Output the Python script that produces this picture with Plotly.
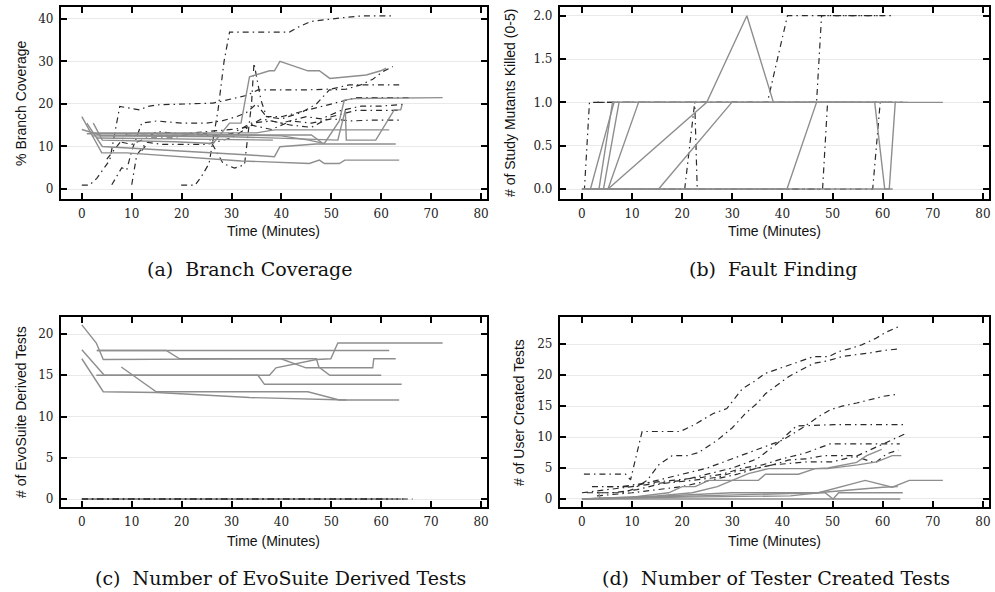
import plotly.graph_objects as go

# ---------------- data ----------------
x_ticks = [0, 10, 20, 30, 40, 50, 60, 70, 80]

# (a) Branch coverage: solid (gray) series
a_s1_t = [0, 4, 9, 32, 45.6, 47.6, 48.6, 51.6, 52.7, 63.6]
a_s1_v = [17, 8.5, 8.5, 6.6, 6.0, 6.8, 6.0, 6.0, 6.8, 6.8]
a_s2_t = [1, 4.1, 33.6, 38.6, 39.7, 46.9, 62.9]
a_s2_v = [15.5, 10, 8, 7.6, 9.95, 10.6, 10.6]
a_s3_t = [2.3, 4.1, 18.6, 26.3, 29.6, 31.9, 33.6, 37.6, 38.6, 39.7, 45.3, 47.6, 49.7, 57, 59.9, 61]
a_s3_v = [15.5, 11.5, 11.1, 10.7, 15.5, 15.5, 26.4, 27.8, 27.8, 30, 27.8, 27.8, 26, 26.8, 27.8, 28.4]
a_s4_t = [1, 20, 40, 45.5, 48.6, 50.5, 51.6, 52.6, 55, 72.3]
a_s4_v = [13, 13, 12.5, 11.5, 10.7, 14, 16, 20.9, 21.3, 21.5]
a_s5_t = [2, 30, 51.3, 52.8, 53, 58.9, 62.6, 63.9, 64.2]
a_s5_v = [12.5, 12.3, 11.5, 18.6, 11.5, 11.5, 18.6, 18.6, 19.9]
a_s6_t = [2, 35, 38.6, 61.6]
a_s6_v = [13.2, 13.2, 13.9, 13.9]
a_s7_t = [3, 38.3]
a_s7_v = [12, 11.5]
a_s8_t = [0, 4, 30, 46, 48]
a_s8_v = [14, 12.6, 12.7, 12.7, 11.0]

# (a) Branch coverage: dash-dot (dark) series
a_d1_t = [19.9, 22.7, 24, 25.5, 27.3, 28.5, 29.6, 33, 41.6, 43.6, 45.9, 51.6, 56, 62.3]
a_d1_v = [0.9, 0.9, 3, 6, 18.6, 30, 36.9, 36.9, 36.9, 38.2, 39.4, 40.2, 40.7, 40.7]
a_d2_t = [0, 1.5, 3, 5.6, 7.6, 11.6, 13.1, 15.3, 26.3, 29.6, 33, 35.3, 45, 50, 53.6, 63.6]
a_d2_v = [0.9, 0.9, 2.5, 6.8, 19.4, 18.6, 19.4, 19.8, 20.2, 21, 22, 23.3, 23.3, 23.5, 24.5, 24.5]
a_d3_t = [6, 8, 9, 10, 12, 15, 20, 25, 28, 31, 33, 35, 37, 40, 44, 47, 49.6, 53, 55.9, 58.3, 60.3, 62.3]
a_d3_v = [1, 5, 4.5, 9, 15.5, 16, 15.5, 15.5, 16, 17, 18, 20, 17, 16.5, 18, 20, 23.3, 23.5, 24.5, 25.8, 27.6, 28.8]
a_d4_t = [5, 7, 9, 12, 15, 20, 25, 28.3, 30.6, 32.6, 34, 34.5, 35.9, 37, 40, 45, 50, 55, 60, 66.3]
a_d4_v = [7, 10, 13, 13, 13, 13, 13, 6, 4.9, 5.7, 20, 29.6, 20.9, 17, 17, 18.5, 20, 21.5, 21.5, 21.5]
a_d5_t = [8, 10, 13, 15, 20, 25, 30, 33, 36, 40, 45, 48, 52, 56, 60, 64.5]
a_d5_v = [11, 10.5, 12, 13.5, 13, 13.5, 14, 14.5, 16.5, 15.5, 17, 16.5, 18.5, 19.5, 19.5, 19.9]
a_d6_t = [10, 11, 13, 16, 20, 25, 30, 34, 38, 42, 46, 50, 54, 58, 64]
a_d6_v = [1, 8, 11, 10.5, 10.5, 10.5, 12, 15, 14, 16, 15.5, 16.5, 16, 16.2, 16.2]
a_d7_t = [12, 14, 18, 22, 26, 30, 34, 38, 42, 46, 50, 55, 60, 64]
a_d7_v = [9, 12, 12, 13, 12.5, 13, 15.5, 16, 15, 14.5, 17, 18.5, 18.5, 18.5]

# (b) Fault finding: solid series
b_s1_t = [1.7, 6.4, 20, 40, 60]
b_s1_v = [0, 1, 1, 1, 1]
b_s2_t = [3.4, 6.1, 30, 55]
b_s2_v = [0, 1, 1, 1]
b_s3_t = [4.3, 7.4, 30, 50]
b_s3_v = [0, 1, 1, 1]
b_s4_t = [5.2, 11.3, 30, 60]
b_s4_v = [0, 1, 1, 1]
b_s5_t = [5.2, 24.9, 32.9, 38.2, 50, 64]
b_s5_v = [0, 1, 2, 1, 1, 1]
b_s6_t = [0, 15.3, 29.9, 40, 72]
b_s6_v = [0, 0, 1, 1, 1]
b_s7_t = [0, 20, 40.9, 46.8, 55, 58.4, 60.4, 61.3, 62.5, 65]
b_s7_v = [0, 0, 0, 1, 1, 1, 0, 0, 1, 1]
b_s8_t = [0, 30, 62]
b_s8_v = [0, 0, 0]

# (b) Fault finding: dash-dot series
b_d1_t = [0, 0.5, 1.5, 20, 40, 62]
b_d1_v = [0, 0, 1, 1, 1, 1]
b_d2_t = [5, 20.5, 22.5, 30, 37, 41, 50, 62]
b_d2_v = [0, 0, 1, 1, 1, 2, 2, 2]
b_d3_t = [3, 22.5, 23, 40, 48, 49, 62]
b_d3_v = [1, 1, 0, 0, 0, 1, 1]
b_d4_t = [5, 40, 46.8, 47.8, 55, 60]
b_d4_v = [1, 1, 1, 2, 2, 2]
b_d5_t = [2, 40, 58, 59.5, 64]
b_d5_v = [0, 0, 0, 1, 1]

# (c) EvoSuite derived tests: solid series
c_s1_t = [0, 4.3, 15, 33.6, 53, 63.6]
c_s1_v = [17, 13, 12.9, 12.3, 12, 12]
c_s2_t = [7.9, 14.9, 45.3, 51.6, 53]
c_s2_v = [16, 13, 13, 12, 12]
c_s3_t = [0, 2.9, 4.3, 39.9, 44.9, 58.3, 58.5, 62.9]
c_s3_v = [21.1, 18.9, 16.9, 17, 15.9, 15.9, 17, 17]
c_s4_t = [0, 4.5, 37.6, 38.9, 47, 49.9, 51.3, 72.3]
c_s4_v = [18.1, 15, 15, 15.9, 16.9, 17, 18.9, 18.9]
c_s5_t = [3, 61.6]
c_s5_v = [18, 18]
c_s6_t = [3, 16.9, 19.6, 47, 47.5, 49.7, 60]
c_s6_v = [18, 18, 17, 17, 16, 15, 15]
c_s7_t = [2.9, 35.3, 36.6, 64.1]
c_s7_v = [15, 15, 13.9, 13.9]

# (c) EvoSuite derived tests: dash-dot series (all at zero)
c_d1_t = [0, 60]
c_d1_v = [0, 0]
c_d2_t = [0, 62]
c_d2_v = [0, 0]
c_d3_t = [1, 64]
c_d3_v = [0, 0]
c_d4_t = [0, 65]
c_d4_v = [0, 0]
c_d5_t = [2, 66.3]
c_d5_v = [0, 0]

# (d) Tester created tests: solid series
d_s1_t = [0, 10, 17.3, 20, 22.6, 25.3, 29.9, 35.2, 36.6, 43.2, 46.5, 49.1, 54.8, 56.8, 59.8]
d_s1_v = [0, 0.3, 1, 2, 2, 3, 3, 3, 4, 4, 4.9, 5, 5.9, 7, 8]
d_s2_t = [0, 15, 22, 27, 30, 33.2, 37.2, 49, 55, 58.8, 61.9, 63.7]
d_s2_v = [0, 0.5, 1, 2, 3, 4.1, 4.9, 4.9, 5.5, 6, 7, 7]
d_s3_t = [0, 20, 41.6, 47.2, 56.5, 61.9, 65.3, 72]
d_s3_v = [0, 0.3, 0.5, 1, 3, 1.9, 3, 3]
d_s4_t = [0, 40, 47, 60, 63]
d_s4_v = [0, 0.9, 1, 1.9, 2]
d_s5_t = [3.4, 3.6, 30, 48.5, 50.1, 51.2, 52.5, 64]
d_s5_v = [1, 0, 1, 1, 0, 1, 1, 1]
d_s6_t = [0, 63.5]
d_s6_v = [0, 0]

# (d) Tester created tests: dash-dot series
d_d1_t = [0.4, 8.7, 9.7, 12, 19.6, 22.2, 26.2, 28.9, 32, 34.2, 36.6, 39, 41.5, 43.8, 46.2, 49.2, 51.2, 53.5, 55.8, 58.5, 60.8, 63.1]
d_d1_v = [4, 4, 3.1, 10.9, 10.9, 11.9, 13.8, 14.6, 17.8, 18.9, 20.3, 21, 21.7, 22.4, 23, 23, 23.8, 24.3, 24.9, 25.9, 27, 27.8]
d_d2_t = [3, 8, 10, 13, 15.3, 18, 21, 23.3, 27, 30, 32.6, 35, 36.6, 39, 41.3, 43.6, 46.2, 48.9, 51.9, 54.5, 57.5, 60.2, 62.9]
d_d2_v = [1, 1, 1.5, 3, 5.5, 7, 7, 7.5, 9.5, 11.5, 13.8, 15.5, 17, 18.5, 19.8, 20.8, 21.9, 22.3, 23, 23.3, 23.6, 24, 24.2]
d_d3_t = [5, 10, 15, 20, 25, 30, 35, 40, 44, 47.2, 49.5, 51.9, 54.8, 57.5, 60.2, 62.9]
d_d3_v = [2, 2, 3, 4, 5, 6.5, 8, 9.5, 11.5, 13.3, 14.4, 15, 15.5, 16.1, 16.6, 16.9]
d_d4_t = [0, 5, 10, 15, 20, 25, 30, 35, 39, 42.8, 50.3, 55.7, 61.2, 64.1]
d_d4_v = [1, 1.5, 2, 2.5, 3, 4, 5, 6.5, 9, 11.8, 12, 12, 12, 12]
d_d5_t = [3, 10, 20, 28, 31, 35, 38, 45, 50, 55, 60.2, 64.4]
d_d5_v = [0.5, 1, 2, 3.5, 4, 5, 5.5, 6, 6, 7, 8.9, 10.5]
d_d6_t = [2, 8, 12, 18, 24, 28, 32, 36, 40, 44.5, 47.2, 49.5, 52.4, 55.1, 58.1, 63.4]
d_d6_v = [2, 2, 2.5, 3, 3.5, 4, 5, 5.5, 6.5, 7.4, 8.2, 8.9, 8.9, 8.9, 8.9, 8.9]
d_d7_t = [1, 6, 11, 16, 22, 27, 31, 35, 38, 41.3, 45, 48.2, 54.2, 57.5, 58.5, 60.8, 63.1]
d_d7_v = [1, 1, 1.5, 2.5, 3, 3.5, 4.5, 5, 5.5, 6.3, 6.5, 7, 7, 6, 5.8, 7.3, 7.9]

panel_solid = {
    "a": [(a_s1_t, a_s1_v), (a_s2_t, a_s2_v), (a_s3_t, a_s3_v), (a_s4_t, a_s4_v),
          (a_s5_t, a_s5_v), (a_s6_t, a_s6_v), (a_s7_t, a_s7_v), (a_s8_t, a_s8_v)],
    "b": [(b_s1_t, b_s1_v), (b_s2_t, b_s2_v), (b_s3_t, b_s3_v), (b_s4_t, b_s4_v),
          (b_s5_t, b_s5_v), (b_s6_t, b_s6_v), (b_s7_t, b_s7_v), (b_s8_t, b_s8_v)],
    "c": [(c_s1_t, c_s1_v), (c_s2_t, c_s2_v), (c_s3_t, c_s3_v), (c_s4_t, c_s4_v),
          (c_s5_t, c_s5_v), (c_s6_t, c_s6_v), (c_s7_t, c_s7_v)],
    "d": [(d_s1_t, d_s1_v), (d_s2_t, d_s2_v), (d_s3_t, d_s3_v), (d_s4_t, d_s4_v),
          (d_s5_t, d_s5_v), (d_s6_t, d_s6_v)],
}
panel_dash = {
    "a": [(a_d1_t, a_d1_v), (a_d2_t, a_d2_v), (a_d3_t, a_d3_v), (a_d4_t, a_d4_v),
          (a_d5_t, a_d5_v), (a_d6_t, a_d6_v), (a_d7_t, a_d7_v)],
    "b": [(b_d1_t, b_d1_v), (b_d2_t, b_d2_v), (b_d3_t, b_d3_v), (b_d4_t, b_d4_v),
          (b_d5_t, b_d5_v)],
    "c": [(c_d1_t, c_d1_v), (c_d2_t, c_d2_v), (c_d3_t, c_d3_v), (c_d4_t, c_d4_v),
          (c_d5_t, c_d5_v)],
    "d": [(d_d1_t, d_d1_v), (d_d2_t, d_d2_v), (d_d3_t, d_d3_v), (d_d4_t, d_d4_v),
          (d_d5_t, d_d5_v), (d_d6_t, d_d6_v), (d_d7_t, d_d7_v)],
}

y_titles = {"a": "% Branch Coverage", "b": "# of Study Mutants Killed (0-5)",
            "c": "# of EvoSuite Derived Tests", "d": "# of User Created Tests"}
captions = {"a": "(a)  Branch Coverage", "b": "(b)  Fault Finding",
            "c": "(c)  Number of EvoSuite Derived Tests", "d": "(d)  Number of Tester Created Tests"}
y_ticks = {"a": [0, 10, 20, 30, 40], "b": [0, 0.5, 1.0, 1.5, 2.0],
           "c": [0, 5, 10, 15, 20], "d": [0, 5, 10, 15, 20, 25]}
y_ticktext = {"a": ["0", "10", "20", "30", "40"], "b": ["0.0", "0.5", "1.0", "1.5", "2.0"],
              "c": ["0", "5", "10", "15", "20"], "d": ["0", "5", "10", "15", "20", "25"]}

# ---------------- layout geometry ----------------
W, H = 995, 592
panels = {
    # name: (axis suffix, x0px, x1px, y0px(top), y1px(bottom), xrange, yrange)
    "a": ("", 61, 488, 7, 199, [-4.2, 81.2], [-2.35, 42.8]),
    "b": ("2", 561, 991, 7, 199, [-4.4, 81.2], [-0.115, 2.1]),
    "c": ("3", 61, 488, 317, 507, [-4.2, 81.2], [-0.97, 22.06]),
    "d": ("4", 561, 991, 317, 507, [-4.4, 81.2], [-1.3, 29.4]),
}
xtitle_y = {"a": 231, "b": 231, "c": 541, "d": 541}
ylab_x = {"a": 21, "b": 511, "c": 21, "d": 520}
cap_pos = {"a": (251, 269), "b": (775, 269), "c": (281, 578), "d": (778, 578)}

SOLID = dict(color="#8e8e8e", width=1.4)
DASH = dict(color="#2b2b2b", width=1.2, dash="6px,4px,1.5px,4px")

fig = go.Figure()
for key, (sfx, x0, x1, y0, y1, xr, yr) in panels.items():
    xa, ya = "x" + sfx, "y" + sfx
    for t, v in panel_dash[key]:
        fig.add_trace(go.Scatter(x=t, y=v, mode="lines", line=DASH, xaxis=xa, yaxis=ya,
                                 showlegend=False, hoverinfo="skip"))
    for t, v in panel_solid[key]:
        fig.add_trace(go.Scatter(x=t, y=v, mode="lines", line=SOLID, xaxis=xa, yaxis=ya,
                                 showlegend=False, hoverinfo="skip"))

    xdom = [x0 / W, x1 / W]
    ydom = [1 - y1 / H, 1 - y0 / H]
    axname = "xaxis" + sfx
    ayname = "yaxis" + sfx
    fig.layout[axname] = dict(
        domain=xdom, range=xr, anchor=ya, tickvals=x_ticks,
        ticks="inside", ticklen=6, tickwidth=1.5, tickcolor="black",
        showline=True, linewidth=2, linecolor="black", mirror="ticks",
        showgrid=False, zeroline=False,
        tickfont=dict(family="DejaVu Serif", size=12, color="#222"),
        ticklabelstandoff=3,
    )
    fig.layout[ayname] = dict(
        domain=ydom, range=yr, anchor=xa, tickvals=y_ticks[key], ticktext=y_ticktext[key],
        ticks="inside", ticklen=6, tickwidth=1.5, tickcolor="black",
        showline=True, linewidth=2, linecolor="black", mirror="ticks",
        showgrid=True, gridcolor="#e9e9e9", gridwidth=1, zeroline=False,
        tickfont=dict(family="DejaVu Serif", size=12, color="#222"),
        ticklabelstandoff=3,
    )
    # axis titles
    fig.add_annotation(x=((x0 + x1) / 2) / W, y=1 - xtitle_y[key] / H, xref="paper", yref="paper",
                       text="Time (Minutes)", showarrow=False, xanchor="center", yanchor="middle",
                       font=dict(family="Liberation Sans", size=14, color="#111"))
    fig.add_annotation(x=ylab_x[key] / W, y=1 - ((y0 + y1) / 2) / H, xref="paper", yref="paper",
                       text=y_titles[key], showarrow=False, textangle=-90,
                       xanchor="center", yanchor="middle",
                       font=dict(family="Liberation Sans", size=14, color="#111"))
    cx, cy = cap_pos[key]
    fig.add_annotation(x=cx / W, y=1 - cy / H, xref="paper", yref="paper",
                       text=captions[key], showarrow=False, xanchor="center", yanchor="middle",
                       font=dict(family="DejaVu Serif", size=19, color="#111"))

fig.update_layout(width=W, height=H, margin=dict(l=0, r=0, t=0, b=0),
                  paper_bgcolor="white", plot_bgcolor="white", showlegend=False)
fig.write_html("out.html", config={"displayModeBar": False},
               post_script="document.body.style.margin='0';document.body.style.padding='0';")
